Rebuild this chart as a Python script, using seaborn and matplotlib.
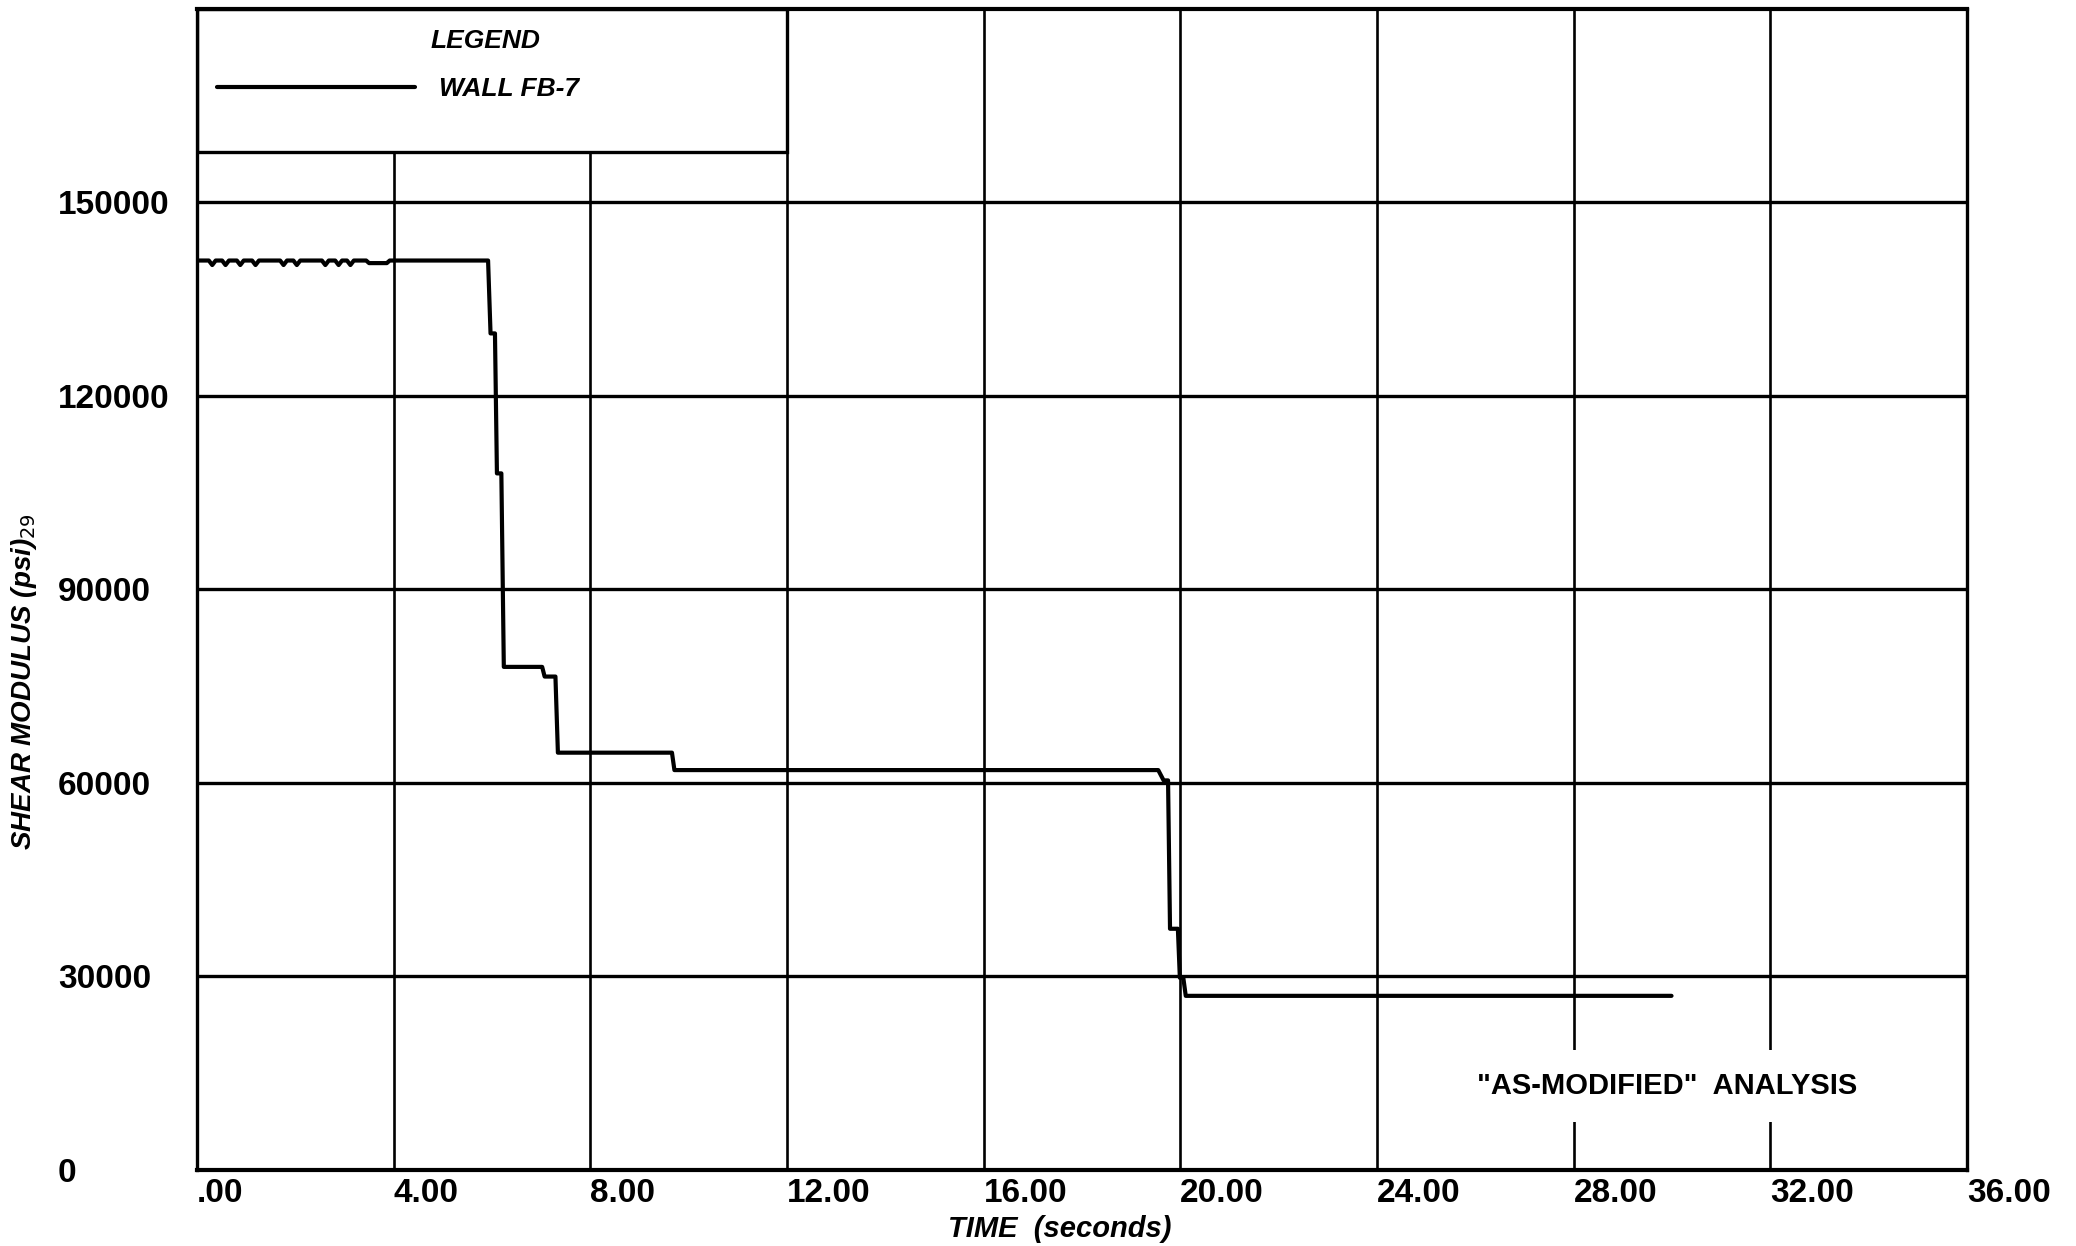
import numpy as np
import pandas as pd
import matplotlib
matplotlib.use("Agg")
import matplotlib.pyplot as plt
import seaborn as sns
from matplotlib.patches import Rectangle

# Shear modulus history of wall FB-7 (time in seconds, modulus in psi)
time_s = [0.00,
          0.24, 0.31, 0.38,
          0.51, 0.58, 0.65,
          0.81, 0.88, 0.95,
          1.12, 1.19, 1.26,
          1.69, 1.76, 1.83,
          1.96, 2.03, 2.10,
          2.54, 2.61, 2.68,
          2.81, 2.88, 2.95,
          3.05, 3.12, 3.19,
          3.44, 3.50, 3.86, 3.92,
          5.92, 5.97, 6.06, 6.10, 6.19, 6.24, 7.02, 7.07, 7.29, 7.34,
          9.66, 9.71, 19.55, 19.66, 19.75, 19.79, 19.95, 19.99, 20.06,
          20.11, 29.99]
shear_psi = [141000,
             141000, 140300, 141000,
             141000, 140300, 141000,
             141000, 140300, 141000,
             141000, 140300, 141000,
             141000, 140300, 141000,
             141000, 140300, 141000,
             141000, 140300, 141000,
             141000, 140300, 141000,
             141000, 140300, 141000,
             141000, 140600, 140600, 141000,
             141000, 129700, 129700, 108000, 108000, 78000, 78000, 76500,
             76500, 64700, 64700, 62000, 62000, 60400, 60400, 37400, 37400,
             29800, 29800, 27000, 27000]

series_name = "WALL FB-7"
x_ticks = [0, 4, 8, 12, 16, 20, 24, 28, 32, 36]
x_tick_labels = [".00", "4.00", "8.00", "12.00", "16.00", "20.00",
                 "24.00", "28.00", "32.00", "36.00"]
y_ticks = [0, 30000, 60000, 90000, 120000, 150000]
y_tick_labels = ["0", "30000", "60000", "90000", "120000", "150000"]

df = pd.DataFrame({"time": time_s, "shear": shear_psi})

sns.set_style("white")
plt.rcParams["font.family"] = ["Liberation Sans", "DejaVu Sans"]
plt.rcParams["text.color"] = "black"
plt.rcParams["xtick.color"] = "black"
plt.rcParams["ytick.color"] = "black"
plt.rcParams["axes.labelcolor"] = "black"

fig = plt.figure(figsize=(20.76, 12.46), dpi=100)
ax = fig.add_axes([0.0949, 0.0610, 0.8526, 0.9318])
ax.set_axisbelow(True)

sns.lineplot(data=df, x="time", y="shear", estimator=None, sort=False,
             color="black", linewidth=3.0, ax=ax, zorder=4,
             label=series_name)

ax.set_xlim(0, 36)
ax.set_ylim(0, 180000)
ax.set_xticks(x_ticks)
ax.set_xticklabels(x_tick_labels, fontsize=24, fontweight="bold", ha="left")
ax.set_yticks(y_ticks)
ax.set_yticklabels(y_tick_labels, fontsize=24, fontweight="bold", ha="left")
ax.tick_params(axis="x", length=0, pad=6)
ax.tick_params(axis="y", length=0, pad=100)
ax.set_xlabel("")
ax.set_ylabel("")

ax.grid(axis="x", color="black", linewidth=1.9)
ax.grid(axis="y", color="black", linewidth=2.4)
for side, lw in {"left": 2.4, "right": 2.4, "top": 3.0, "bottom": 3.0}.items():
    ax.spines[side].set_visible(True)
    ax.spines[side].set_color("black")
    ax.spines[side].set_linewidth(lw)

# legend block in the upper-left corner of the grid
ax.add_patch(Rectangle((0, 157800), 12, 22200, facecolor="white",
                       edgecolor="black", linewidth=2.4, zorder=1))
ax.text(4.74, 175000, "LEGEND", fontsize=19, style="italic",
        fontweight="bold", ha="left", va="center", zorder=5)
leg = ax.legend(loc="center left", bbox_to_anchor=(0.0040, 0.931),
                frameon=False, borderpad=0, handlelength=7.5,
                handletextpad=0.9, fontsize=19)
for t in leg.get_texts():
    t.set_fontstyle("italic")
    t.set_fontweight("bold")
for h in leg.get_lines():
    h.set_linewidth(3.0)

ax.text(29.9, 13000, '"AS-MODIFIED"  ANALYSIS', fontsize=21,
        fontweight="bold", ha="center", va="center", zorder=5,
        bbox=dict(boxstyle="square,pad=0.75", facecolor="white",
                  edgecolor="none"))

fig.text(24 / 2076, 1 - 682 / 1246, r"SHEAR MODULUS (psi)$_{29}$",
         rotation=90, fontsize=20, style="italic", fontweight="bold",
         ha="center", va="center")
fig.text(1060 / 2076, 1 - 1229 / 1246, "TIME  (seconds)", fontsize=21,
         style="italic", fontweight="bold", ha="center", va="center")

fig.savefig("out.png", dpi=100, facecolor="white")
